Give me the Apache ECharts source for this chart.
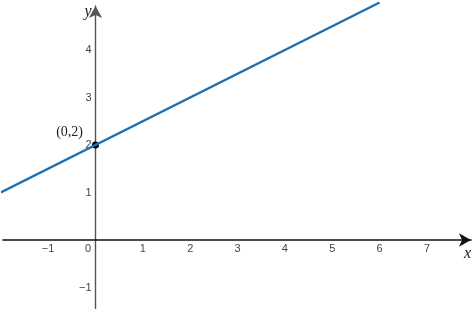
<!DOCTYPE html>
<html><head><meta charset="utf-8">
<script src="https://cdn.jsdelivr.net/npm/echarts@6/dist/echarts.min.js"></script>
<style>html,body{margin:0;padding:0;background:#fff}#c{width:474px;height:309px}</style>
</head><body><div id="c"></div>
<script>
const lineX = [-2, 6];
const lineY = [1, 5];
const pointXY = [0, 2];
const pointLabel = '(0,2)';
const xTicks = [-1, 0, 1, 2, 3, 4, 5, 6, 7];
const yTicks = [-1, 1, 2, 3, 4];
const fmt = v => (v < 0 ? '\u2212' + Math.abs(v) : String(v));

const chart = echarts.init(document.getElementById('c'), null, {renderer: 'canvas'});
chart.setOption({
  animation: false,
  grid: {left: 3, right: 3, top: 6, bottom: 0, containLabel: false, outerBoundsMode: 'none'},
  xAxis: {
    type: 'value', min: -1.953, max: 7.93, position: 'bottom', offset: -69,
    name: 'x', nameLocation: 'end', nameGap: -7,
    nameTextStyle: {fontFamily: 'Liberation Serif', fontStyle: 'italic', fontSize: 16, color: '#222', verticalAlign: 'top', padding: [6, 0, 0, 0]},
    axisLine: {onZero: false, symbol: ['none', 'arrow'], symbolSize: [10, 12], lineStyle: {color: '#111', width: 1.6}},
    axisTick: {show: false},
    splitLine: {show: false},
    axisLabel: {
      customValues: xTicks, margin: 3,
      fontFamily: 'Liberation Sans', fontSize: 11, color: '#444',
      formatter: v => v === 0 ? '{z|0}' : fmt(v),
      rich: {z: {fontFamily: 'Liberation Sans', fontSize: 11, color: '#444', padding: [0, 15, 0, 0]}}
    }
  },
  yAxis: {
    type: 'value', min: -1.453, max: 4.926, position: 'left', offset: -92.5,
    name: 'y', nameLocation: 'end', nameGap: -6,
    nameTextStyle: {fontFamily: 'Liberation Serif', fontStyle: 'italic', fontSize: 16, color: '#222', align: 'right', verticalAlign: 'middle', padding: [0, 4, 0, 0]},
    axisLine: {onZero: false, symbol: ['none', 'arrow'], symbolSize: [10, 12], lineStyle: {color: '#555', width: 1.4}},
    axisTick: {show: false},
    splitLine: {show: false},
    axisLabel: {customValues: yTicks, margin: 4, fontFamily: 'Liberation Sans', fontSize: 11, color: '#444', formatter: fmt}
  },
  series: [
    {
      type: 'line', clip: false, symbol: 'none',
      data: lineX.map((x, i) => [x, lineY[i]]),
      lineStyle: {color: '#1f6fae', width: 2.4}
    },
    {
      type: 'scatter', clip: false, symbolSize: 7,
      itemStyle: {color: '#000', borderColor: '#000', borderWidth: 0, opacity: 1},
      data: [pointXY],
      label: {show: true, position: 'left', distance: 9, offset: [0, -13], formatter: pointLabel,
        fontFamily: 'Liberation Serif', fontSize: 14, color: '#222'}
    }
  ]
});
</script></body></html>
